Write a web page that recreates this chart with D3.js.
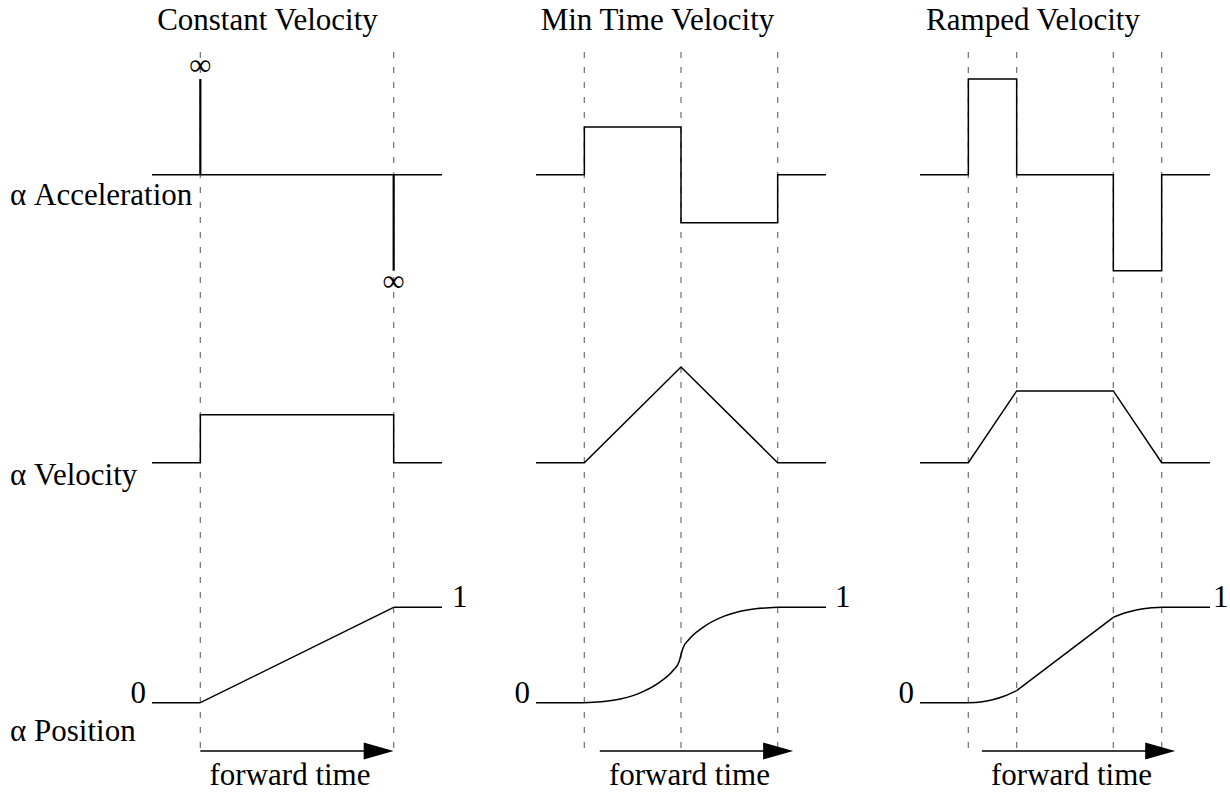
<!DOCTYPE html>
<html><head><meta charset="utf-8">
<script src="https://cdn.jsdelivr.net/npm/d3@7/dist/d3.min.js"></script>
<style>
body{margin:0;background:#fff}
svg text{font-family:"Liberation Serif","Times New Roman",serif;fill:#000}
</style>
</head><body>
<svg id="chart" width="1230" height="792"></svg>
<script>
// ---------- data ----------
const titles = ["Constant Velocity", "Min Time Velocity", "Ramped Velocity"];
const rowLabels = ["\u03b1 Acceleration", "\u03b1 Velocity", "\u03b1 Position"];
const timeDomain = [-0.25, 1.25];
const knots = [[0, 1], [0, 0.5, 1], [0, 0.25, 0.75, 1]];

// acceleration (step profile), t -> a
const accel = [
  [[-0.25, 0], [1.25, 0]],
  [[-0.25, 0], [0, 1], [0.5, -1], [1, 0], [1.25, 0]],
  [[-0.25, 0], [0, 2], [0.25, 0], [0.75, -2], [1, 0], [1.25, 0]]
];
// impulses (infinite acceleration) in constant velocity
const accelSpikes = [[[0, 2], [1, -2]], [], []];
const spikeLabel = "\u221e";

// velocity
const velocity = [
  [[-0.25, 0], [0, 0], [0, 1], [1, 1], [1, 0], [1.25, 0]],
  [[-0.25, 0], [0, 0], [0.5, 2], [1, 0], [1.25, 0]],
  [[-0.25, 0], [0, 0], [0.25, 1.5], [0.75, 1.5], [1, 0], [1.25, 0]]
];

// position
const position = [
  [[-0.25, 0], [0, 0], [1, 1], [1.25, 1]],
  [[-0.25, 0], [0, 0], [0.15, 0.025], [0.28, 0.095], [0.39, 0.215], [0.46, 0.34], [0.49, 0.43], [0.5, 0.5],
   [0.51, 0.57], [0.54, 0.66], [0.61, 0.785], [0.72, 0.905], [0.85, 0.975], [1, 1], [1.25, 1]],
  [[-0.25, 0], [0, 0], [0.0625, 0.008], [0.125, 0.03], [0.1875, 0.07], [0.25, 0.126],
   [0.75, 0.895], [0.8125, 0.942], [0.875, 0.974], [0.9375, 0.993], [1, 1], [1.25, 1]]
];
const positionTicks = ["0", "1"];

const arrowStart = [0, 0.08, 0.07];
const arrowLength = 1;
const timeLabel = "forward time";

// ---------- layout ----------
const W = 1230, H = 792;
const svg = d3.select("#chart");
svg.append("rect").attr("width", W).attr("height", H).attr("fill", "#fff");

const panelLeft = [152, 536, 920];
const panelWidth = 290;
const titleX = [267.5, 657.5, 1033];
const oneOffset = [10, 9, 3];
const FS = 31;

const yA = d3.scaleLinear().domain([-2, 2]).range([270.7, 79]);
const yV = d3.scaleLinear().domain([0, 2]).range([462.7, 367]);
const yP = d3.scaleLinear().domain([0, 1]).range([702.7, 607.3]);

const rowBaselines = [205, 485, 741];
svg.selectAll("text.row").data(rowLabels).join("text")
  .attr("class", "row")
  .attr("x", 10).attr("y", (d, i) => rowBaselines[i])
  .attr("font-size", FS).text(d => d);

titles.forEach((title, p) => {
  const x = d3.scaleLinear().domain(timeDomain).range([panelLeft[p], panelLeft[p] + panelWidth]);
  const g = svg.append("g");

  // title
  g.append("text").attr("x", titleX[p]).attr("y", 30)
    .attr("text-anchor", "middle").attr("font-size", FS).text(title);

  // dashed guides
  g.selectAll("line.guide").data(knots[p]).join("line")
    .attr("class", "guide")
    .attr("x1", d => x(d)).attr("x2", d => x(d))
    .attr("y1", 52).attr("y2", 751)
    .attr("stroke", "#7a7a7a").attr("stroke-width", 1.3)
    .attr("stroke-dasharray", "6,9");

  // acceleration
  const lineA = d3.line().x(d => x(d[0])).y(d => yA(d[1])).curve(d3.curveStepAfter);
  g.append("path").attr("d", lineA(accel[p]))
    .attr("fill", "none").attr("stroke", "#000").attr("stroke-width", 1.5);

  g.selectAll("line.spike").data(accelSpikes[p]).join("line")
    .attr("class", "spike")
    .attr("x1", d => x(d[0])).attr("x2", d => x(d[0]))
    .attr("y1", yA(0)).attr("y2", d => yA(d[1]))
    .attr("stroke", "#000").attr("stroke-width", 2.2);
  g.selectAll("text.inf").data(accelSpikes[p]).join("text")
    .attr("class", "inf")
    .attr("x", d => x(d[0])).attr("y", d => d[1] > 0 ? yA(d[1]) - 4 : yA(d[1]) + 20)
    .attr("text-anchor", "middle").attr("font-size", FS).text(spikeLabel);

  // velocity
  const lineV = d3.line().x(d => x(d[0])).y(d => yV(d[1]));
  g.append("path").attr("d", lineV(velocity[p]))
    .attr("fill", "none").attr("stroke", "#000").attr("stroke-width", 1.5);

  // position: drawn interval by interval between knots
  const bounds = [timeDomain[0], ...knots[p], timeDomain[1]];
  const lineP = d3.line().x(d => x(d[0])).y(d => yP(d[1])).curve(d3.curveMonotoneX);
  for (let i = 0; i < bounds.length - 1; i++) {
    const pts = position[p].filter(d => d[0] >= bounds[i] - 1e-9 && d[0] <= bounds[i + 1] + 1e-9);
    g.append("path").attr("d", lineP(pts))
      .attr("fill", "none").attr("stroke", "#000").attr("stroke-width", 1.5);
  }
  g.append("text").attr("x", x(timeDomain[0]) - 6).attr("y", yP(0))
    .attr("text-anchor", "end").attr("font-size", FS).text(positionTicks[0]);
  g.append("text").attr("x", x(timeDomain[1]) + oneOffset[p]).attr("y", yP(1))
    .attr("text-anchor", "start").attr("font-size", FS).text(positionTicks[1]);

  // forward time arrow
  const ax0 = x(arrowStart[p]), ax1 = x(arrowStart[p] + arrowLength), ay = 751;
  g.append("line").attr("x1", ax0).attr("x2", ax1 - 20).attr("y1", ay).attr("y2", ay)
    .attr("stroke", "#000").attr("stroke-width", 1.5);
  g.append("path")
    .attr("d", `M${ax1},${ay} L${ax1 - 30},${ay - 8.5} L${ax1 - 30},${ay + 8.5} Z`)
    .attr("fill", "#000");
  g.append("text").attr("x", (ax0 + ax1) / 2 - 7).attr("y", 785)
    .attr("text-anchor", "middle").attr("font-size", FS).text(timeLabel);
});
</script>
</body></html>
